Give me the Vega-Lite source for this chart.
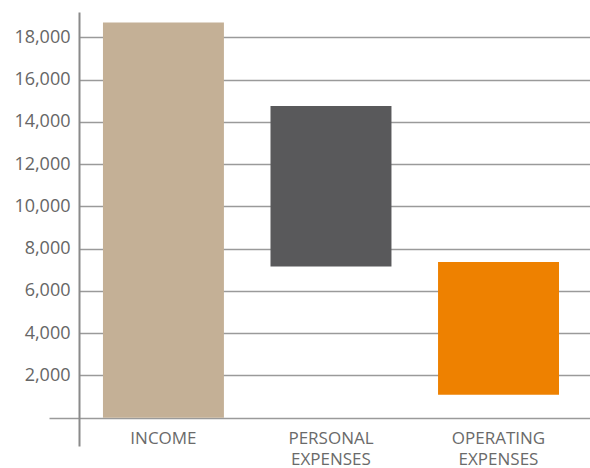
{
  "$schema": "https://vega.github.io/schema/vega-lite/v6.json",
  "autosize": {"type": "none"},
  "padding": {"left": 79, "top": 12, "right": 0, "bottom": 22},
  "width": 511,
  "height": 434,
  "background": "white",
  "config": {"view": {"stroke": null}},
  "data": {"values": [
    {"category": "INCOME", "start": 0, "end": 18700},
    {"category": "PERSONAL EXPENSES", "start": 7150, "end": 14750},
    {"category": "OPERATING EXPENSES", "start": 1090, "end": 7370}
  ]},
  "mark": {"type": "bar"},
  "encoding": {
    "x": {
      "field": "category", "type": "nominal", "sort": null,
      "scale": {"paddingInner": 0.278, "paddingOuter": 0.164, "align": 0.436},
      "axis": {
        "title": null, "orient": "bottom", "offset": -28, "domain": false, "ticks": false,
        "labelAngle": 0, "labelPadding": 12, "labelBaseline": "top",
        "labelExpr": "split(datum.label, ' ')", "labelLineHeight": 21,
        "labelFont": "Open Sans", "labelFontSize": 17, "labelColor": "#6a6a6a"
      }
    },
    "y": {
      "field": "end", "type": "quantitative",
      "scale": {"domain": [-1340, 19200], "nice": false, "zero": false},
      "axis": {
        "title": null,
        "values": [0, 2000, 4000, 6000, 8000, 10000, 12000, 14000, 16000, 18000],
        "labelExpr": "datum.value === 0 ? '' : format(datum.value, ',')",
        "grid": true, "gridColor": "#9a9a9a", "gridWidth": 1.5,
        "domain": true, "domainColor": "#8a8a8a", "domainWidth": 2,
        "ticks": true, "tickSize": 30, "tickWidth": 1.5, "tickColor": "#9a9a9a",
        "tickOpacity": {"condition": {"test": "datum.value === 0", "value": 1}, "value": 0},
        "labelPadding": -21,
        "labelFont": "Open Sans", "labelFontSize": 18, "labelColor": "#666666"
      }
    },
    "y2": {"field": "start"},
    "color": {
      "field": "category", "type": "nominal", "legend": null,
      "scale": {"domain": ["INCOME", "PERSONAL EXPENSES", "OPERATING EXPENSES"], "range": ["#C4B096", "#59595B", "#EE8100"]}
    }
  }
}
